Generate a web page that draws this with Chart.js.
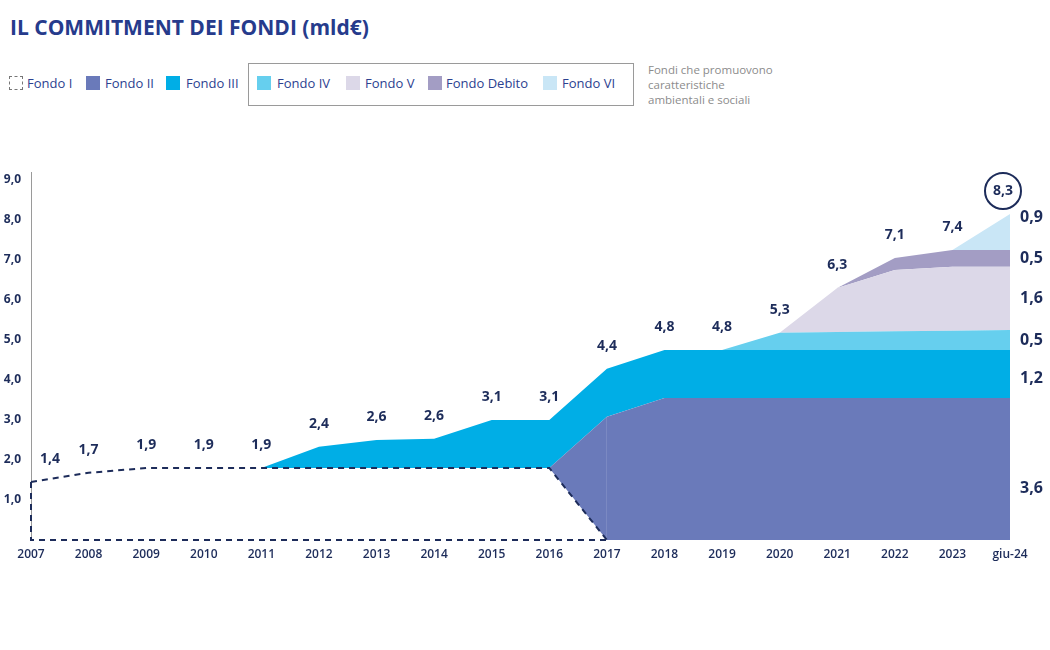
<!DOCTYPE html>
<html>
<head>
<meta charset="utf-8">
<script src="https://cdn.jsdelivr.net/npm/chart.js@4"></script>
<style>
  body { margin: 0; width: 1050px; height: 650px; background: #fff; font-family: "Open Sans", sans-serif; position: relative; overflow: hidden; }
  #title { position: absolute; left: 10px; top: 17px; font-size: 21px; line-height: 21px; font-weight: 700; color: #263b8c; white-space: nowrap; }
  .item { position: absolute; top: 74px; font-size: 13px; line-height: 18px; color: #2c4190; white-space: nowrap; }
  .sw { position: absolute; top: 76px; width: 14px; height: 14px; }
  #box { position: absolute; left: 248px; top: 63px; width: 384px; height: 41px; border: 1px solid #9a9a9a; }
  #note { position: absolute; left: 648px; top: 62px; font-size: 11.5px; line-height: 15px; color: #8c8c8c; }
  #wrap { position: absolute; left: 0; top: 0; width: 1050px; height: 650px; }
</style>
</head>
<body>
<div id="title">IL COMMITMENT DEI FONDI (mld€)</div>
<div id="box"></div>
<div class="sw" style="left:9px; width:12px; height:12px; border:1px dashed #777;"></div>
<div class="item" style="left:27px">Fondo I</div>
<div class="sw" style="left:86px; background:#6a7aba"></div>
<div class="item" style="left:105px">Fondo II</div>
<div class="sw" style="left:166px; background:#00aee6"></div>
<div class="item" style="left:186px">Fondo III</div>
<div class="sw" style="left:257px; background:#66cfee"></div>
<div class="item" style="left:277px">Fondo IV</div>
<div class="sw" style="left:346px; background:#dcd8e8"></div>
<div class="item" style="left:365px">Fondo V</div>
<div class="sw" style="left:428px; background:#a39dc4"></div>
<div class="item" style="left:446px">Fondo Debito</div>
<div class="sw" style="left:543px; background:#c9e6f6"></div>
<div class="item" style="left:562px">Fondo VI</div>
<div id="note">Fondi che promuovono<br>caratteristiche<br>ambientali e sociali</div>
<div id="wrap"><canvas id="chart" width="1050" height="650"></canvas></div>
<script>
const categories = ['2007', '2008', '2009', '2010', '2011', '2012', '2013', '2014', '2015', '2016', '2017', '2018', '2019', '2020', '2021', '2022', '2023', 'giu-24'];

// stacked layers as drawn (mld€)
const fondoI = [1.45, 1.68, 1.8, 1.8, 1.8, 1.8, 1.8, 1.8, 1.8, 1.8, 0, 0, 0, 0, 0, 0, 0, 0];
const fondoII = [0, 0, 0, 0, 0, 0, 0, 0, 0, 0, 3.08, 3.55, 3.55, 3.55, 3.55, 3.55, 3.55, 3.55];
const fondoIII = [0, 0, 0, 0, 0, 0.53, 0.7, 0.73, 1.2, 1.2, 1.2, 1.2, 1.2, 1.2, 1.2, 1.2, 1.2, 1.2];
const fondoIV = [0, 0, 0, 0, 0, 0, 0, 0, 0, 0, 0, 0, 0, 0.43, 0.45, 0.47, 0.48, 0.5];
const fondoV = [0, 0, 0, 0, 0, 0, 0, 0, 0, 0, 0, 0, 0, 0, 1.1, 1.53, 1.6, 1.58];
const fondoDebito = [0, 0, 0, 0, 0, 0, 0, 0, 0, 0, 0, 0, 0, 0, 0, 0.3, 0.42, 0.42];
const fondoVI = [0, 0, 0, 0, 0, 0, 0, 0, 0, 0, 0, 0, 0, 0, 0, 0, 0, 0.9];

// labels printed on the chart
const totals = [1.4, 1.7, 1.9, 1.9, 1.9, 2.4, 2.6, 2.6, 3.1, 3.1, 4.4, 4.8, 4.8, 5.3, 6.3, 7.1, 7.4, 8.3];
const endValues = [3.6, 1.2, 0.5, 1.6, 0.5, 0.9]; // Fondo II .. Fondo VI at giu-24
const yTicks = [1, 2, 3, 4, 5, 6, 7, 8, 9];

const navy = '#1d2c5a';
const fmt = v => v.toFixed(1).replace('.', ',');
const fondoIEnd = 10; // Fondo I reaches zero in 2017

const layer = (label, data, color) => ({
  label, data,
  backgroundColor: color,
  borderWidth: 0,
  fill: '-1',
  pointRadius: 0,
  tension: 0
});

// dashed outline of Fondo I + value labels
const annotations = {
  id: 'annotations',
  afterDatasetsDraw(chart) {
    const ctx = chart.ctx;
    const y = chart.scales.y;
    const base = y.getPixelForValue(0);
    const m0 = chart.getDatasetMeta(0).data;

    ctx.save();
    ctx.strokeStyle = navy;
    ctx.lineWidth = 2;
    ctx.setLineDash([6, 5]);
    ctx.beginPath();
    ctx.moveTo(m0[0].x, m0[0].y);
    ctx.lineTo(m0[0].x, base);
    ctx.lineTo(m0[fondoIEnd].x, base);
    ctx.stroke();
    ctx.setLineDash([]);

    // totals above the stack
    const top = chart.getDatasetMeta(chart.data.datasets.length - 1).data;
    ctx.fillStyle = navy;
    ctx.font = 'bold 14px "Open Sans"';
    ctx.textAlign = 'center';
    ctx.textBaseline = 'middle';
    const last = totals.length - 1;
    totals.forEach((t, i) => {
      let x = top[i].x;
      if (i === 0) x += 19;
      if (i === last) x -= 7;
      const ty = top[i].y - 23;
      ctx.fillText(fmt(t), x, ty);
      if (i === last) {
        ctx.beginPath();
        ctx.arc(x, ty, 18, 0, Math.PI * 2);
        ctx.lineWidth = 2;
        ctx.stroke();
      }
    });

    // per-fund values at the right edge
    ctx.font = 'bold 16px "Open Sans"';
    ctx.textAlign = 'left';
    const shift = [19, 4, 0, 0, 0, -15];
    endValues.forEach((v, k) => {
      const hi = chart.getDatasetMeta(k + 1).data[last].y;
      const lo = chart.getDatasetMeta(k).data[last].y;
      ctx.fillText(fmt(v), chart.chartArea.right + 10, (hi + lo) / 2 + shift[k]);
    });
    ctx.restore();
  }
};

new Chart(document.getElementById('chart'), {
  type: 'line',
  data: {
    labels: categories,
    datasets: [
      {
        label: 'Fondo I',
        data: fondoI,
        fill: false,
        borderColor: navy,
        borderWidth: 2,
        borderDash: [6, 5],
        pointRadius: 0,
        tension: 0,
        segment: {
          borderColor: c => c.p0DataIndex >= fondoIEnd ? 'rgba(0,0,0,0)' : navy
        }
      },
      layer('Fondo II', fondoII, '#6a7aba'),
      layer('Fondo III', fondoIII, '#00aee6'),
      layer('Fondo IV', fondoIV, '#66cfee'),
      layer('Fondo V', fondoV, '#dcd8e8'),
      layer('Fondo Debito', fondoDebito, '#a39dc4'),
      layer('Fondo VI', fondoVI, '#c9e6f6')
    ]
  },
  options: {
    responsive: false,
    animation: false,
    layout: { padding: { top: 172, right: 40, bottom: 80, left: 0 } },
    scales: {
      x: {
        grid: { display: false, drawTicks: false },
        border: { display: false },
        ticks: { color: navy, font: { family: 'Open Sans', size: 12, weight: '600' }, padding: 7, maxRotation: 0, autoSkip: false },
        afterFit: s => { s.height = 30; }
      },
      y: {
        stacked: true,
        min: 0,
        max: 9.2,
        grid: { display: false, drawTicks: false },
        border: { display: true, color: '#9a9a9a', width: 1 },
        afterBuildTicks: s => { s.ticks = yTicks.map(v => ({ value: v })); },
        ticks: {
          color: navy,
          font: { family: 'Open Sans', size: 12, weight: 'bold' },
          padding: 10,
          callback: v => fmt(v)
        },
        afterFit: s => { s.width = 31; }
      }
    },
    plugins: {
      legend: { display: false },
      tooltip: { enabled: false }
    }
  },
  plugins: [annotations]
});
</script>
</body>
</html>
